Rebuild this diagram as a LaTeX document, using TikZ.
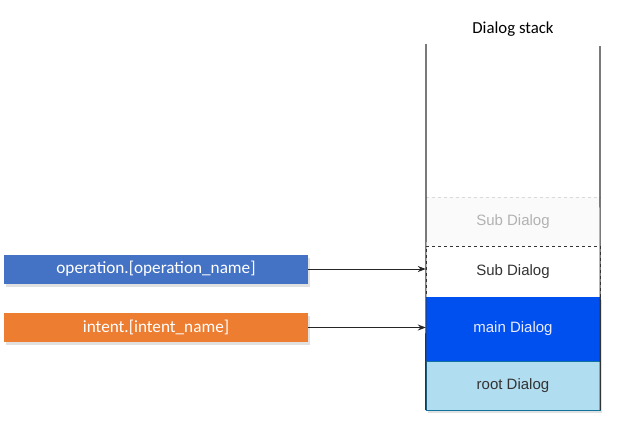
\documentclass[tikz,border=0pt]{standalone}
\usepackage{fontspec}
\setmainfont{Liberation Sans}
\newfontfamily\carlitofont{Carlito}
\usetikzlibrary{arrows.meta,shadows}
\definecolor{opblue}{HTML}{4472C4}
\definecolor{intorange}{HTML}{ED7D31}
\definecolor{mainblue}{HTML}{0050EF}
\definecolor{rootfill}{HTML}{B1DDF0}
\definecolor{rootdraw}{HTML}{10739E}
\definecolor{txtgray}{HTML}{333333}
\begin{document}
\begin{tikzpicture}[x=1pt,y=-1pt,
  shad/.style={drop shadow={shadow xshift=2pt,shadow yshift=-3pt,fill=black!15,opacity=0.8}},
  srcbox/.style={minimum width=304pt,minimum height=29pt,inner sep=0pt,text=white,font=\carlitofont\fontsize{17.2}{19}\selectfont,shad},
  stackbox/.style={minimum width=174pt,inner sep=0pt,font=\fontsize{15}{17}\selectfont},
  conn/.style={-{Stealth[length=8pt,width=6pt]},draw=black!85,line width=1pt}]
\useasboundingbox (0,0) rectangle (628,442);
% stack
\node[stackbox,minimum height=49pt,fill=black!2,text=black!30] (faded) at (513,221.5) {Sub Dialog};
\draw[black!15,dashed] (faded.north west) -- (faded.north east);
\node[stackbox,minimum height=51pt,fill=white,draw=black!80,dashed,text=txtgray] (sub) at (513,271.5) {Sub Dialog};
\node[stackbox,minimum height=64pt,fill=mainblue,text=white!92!blue,shad] (main) at (513,329) {main Dialog};
\node[stackbox,minimum height=49pt,fill=rootfill,draw=rootdraw,text=txtgray,shad] (root) at (513,385.5) {root Dialog};
\coordinate (ltop) at (426,44);
\coordinate (rtop) at (600,46);
\draw[black!80,line width=1.2pt] (ltop) -- (root.south west);
\draw[black!80,line width=1.2pt] (rtop) -- (root.south east);
\node[font=\carlitofont\fontsize{16.8}{19}\selectfont] (title) at (513,29) {Dialog stack};
% sources
\node[srcbox,fill=opblue] (op) at (156,269) {operation.[operation\_name]};
\node[srcbox,fill=intorange] (intent) at (156,327.5) {intent.[intent\_name]};
\draw[conn] (op.east) -- (sub.west |- op.east);
\draw[conn] (intent.east) -- (main.west |- intent.east);
\end{tikzpicture}
\end{document}
